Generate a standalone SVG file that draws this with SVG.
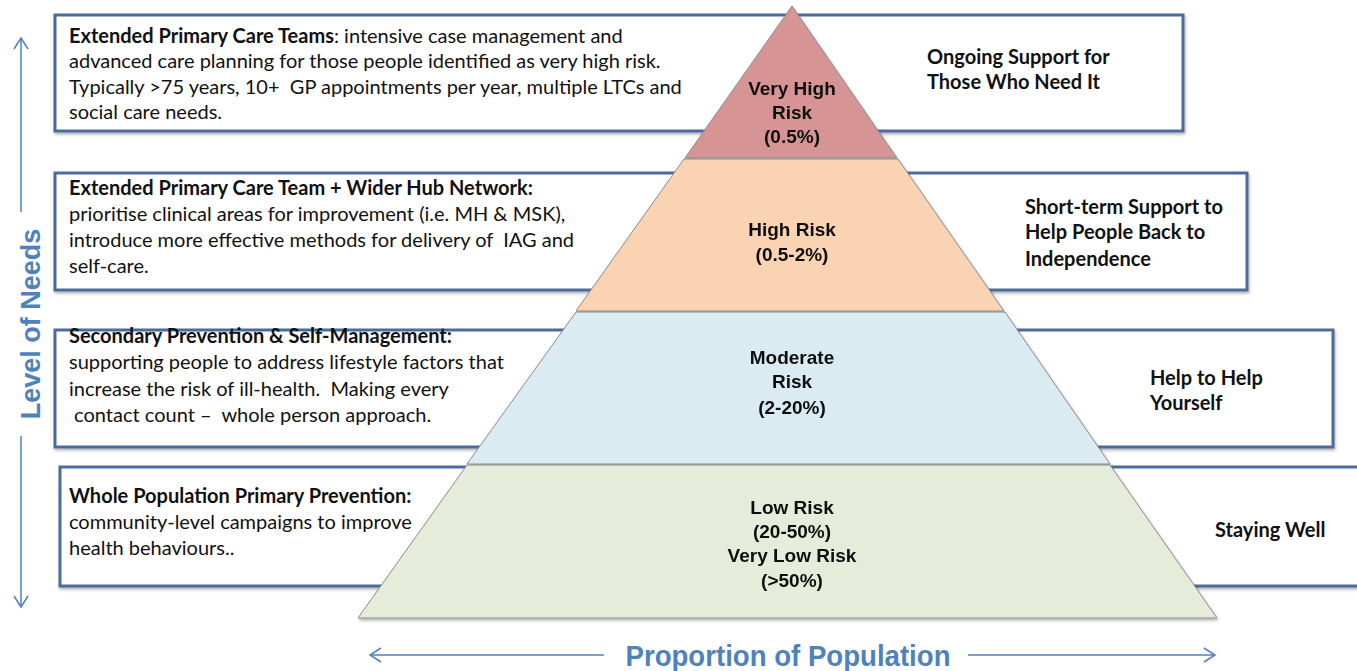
<svg xmlns="http://www.w3.org/2000/svg" width="1357" height="671" viewBox="0 0 1357 671">
<defs>
<style>
.box{fill:#ffffff;stroke:#4a6c9c;stroke-width:3}
.lt{font-family:Lato,"Open Sans","Liberation Sans",sans-serif;font-size:20px;fill:#111}
.b{font-weight:bold}
.rt{font-family:Lato,"Open Sans","Liberation Sans",sans-serif;font-size:20px;font-weight:bold;fill:#111}
.pt{font-family:"Liberation Sans",Arial,sans-serif;font-size:19px;font-weight:bold;fill:#111;text-anchor:middle}
.seg{stroke:#8c8c8c;stroke-width:1}
.axis{stroke:#4f81bd;stroke-width:1.5;fill:none}
.axt{font-family:"Liberation Sans",Arial,sans-serif;font-weight:bold;fill:#4f81bd}
</style>
<filter id="sh" x="-5%" y="-5%" width="110%" height="115%">
<feDropShadow dx="1" dy="2" stdDeviation="1.5" flood-color="#000" flood-opacity="0.3"/>
</filter>
</defs>
<rect width="1357" height="671" fill="#ffffff"/>

<g id="tier1">
<rect class="box" x="55" y="15" width="1128" height="116" filter="url(#sh)"/>
<text class="lt" x="69" y="43"><tspan class="b">Extended Primary Care Teams</tspan>: intensive case management and</text>
<text class="lt" x="69" y="68">advanced care planning for those people identified as very high risk.</text>
<text class="lt" x="69" y="94" xml:space="preserve">Typically &gt;75 years, 10+  GP appointments per year, multiple LTCs and</text>
<text class="lt" x="69" y="119">social care needs.</text>
<text class="rt" x="927" y="64">Ongoing Support for</text>
<text class="rt" x="927" y="89">Those Who Need It</text>
</g>

<g id="tier2">
<rect class="box" x="55" y="173" width="1192" height="117" filter="url(#sh)"/>
<text class="lt b" x="69" y="195">Extended Primary Care Team + Wider Hub Network:</text>
<text class="lt" x="69" y="221">prioritise clinical areas for improvement (i.e. MH &amp; MSK),</text>
<text class="lt" x="69" y="247" xml:space="preserve">introduce more effective methods for delivery of  IAG and</text>
<text class="lt" x="69" y="273">self-care.</text>
<text class="rt" x="1025" y="214">Short-term Support to</text>
<text class="rt" x="1025" y="239">Help People Back to</text>
<text class="rt" x="1025" y="266">Independence</text>
</g>

<g id="tier3">
<rect class="box" x="55" y="330" width="1278" height="117" filter="url(#sh)"/>
<text class="lt b" x="69" y="343">Secondary Prevention &amp; Self-Management:</text>
<text class="lt" x="69" y="369">supporting people to address lifestyle factors that</text>
<text class="lt" x="69" y="396" xml:space="preserve">increase the risk of ill-health.  Making every</text>
<text class="lt" x="69" y="422" xml:space="preserve"> contact count –  whole person approach.</text>
<text class="rt" x="1150" y="385">Help to Help</text>
<text class="rt" x="1150" y="410">Yourself</text>
</g>

<g id="tier4">
<rect class="box" x="60" y="467" width="1310" height="119" filter="url(#sh)"/>
<text class="lt b" x="69" y="503">Whole Population Primary Prevention:</text>
<text class="lt" x="69" y="529">community-level campaigns to improve</text>
<text class="lt" x="69" y="555">health behaviours..</text>
<text class="rt" x="1215" y="537">Staying Well</text>
</g>

<g id="pyramid" filter="url(#sh)">
<g id="very-high-risk">
<polygon class="seg" points="792,6 897,158 685,158" fill="#d69594"/>
<text class="pt" x="792" y="95">Very High</text>
<text class="pt" x="792" y="119">Risk</text>
<text class="pt" x="792" y="143">(0.5%)</text>
</g>
<g id="high-risk">
<polygon class="seg" points="684,159 898,159 1004,311 576,311" fill="#fad3b3"/>
<text class="pt" x="792" y="236">High Risk</text>
<text class="pt" x="792" y="261">(0.5-2%)</text>
</g>
<g id="moderate-risk">
<polygon class="seg" points="576,312 1005,312 1110,464 467,464" fill="#daebf2"/>
<text class="pt" x="792" y="364">Moderate</text>
<text class="pt" x="792" y="388">Risk</text>
<text class="pt" x="792" y="414">(2-20%)</text>
</g>
<g id="low-risk">
<polygon class="seg" points="467,465 1110,465 1217,618 358,618" fill="#e6ecda"/>
<text class="pt" x="792" y="514">Low Risk</text>
<text class="pt" x="792" y="538">(20-50%)</text>
<text class="pt" x="792" y="562">Very Low Risk</text>
<text class="pt" x="792" y="587">(&gt;50%)</text>
</g>
</g>

<g id="connectors">
<line class="axis" x1="21" y1="38" x2="21" y2="212"/>
<polyline class="axis" points="14,49 21,38 28,49"/>
<line class="axis" x1="21" y1="436" x2="21" y2="607"/>
<polyline class="axis" points="14,596 21,607 28,596"/>
<line class="axis" x1="370" y1="655" x2="604" y2="655"/>
<polyline class="axis" points="381,648 370,655 381,662"/>
<line class="axis" x1="968" y1="655" x2="1215" y2="655"/>
<polyline class="axis" points="1204,648 1215,655 1204,662"/>
</g>

<g id="axis-labels">
<text class="axt" font-size="27" text-anchor="middle" transform="translate(40,324) rotate(-90)">Level of Needs</text>
<text class="axt" font-size="29" text-anchor="middle" x="788" y="666" textLength="325" lengthAdjust="spacingAndGlyphs">Proportion of Population</text>
</g>
</svg>
